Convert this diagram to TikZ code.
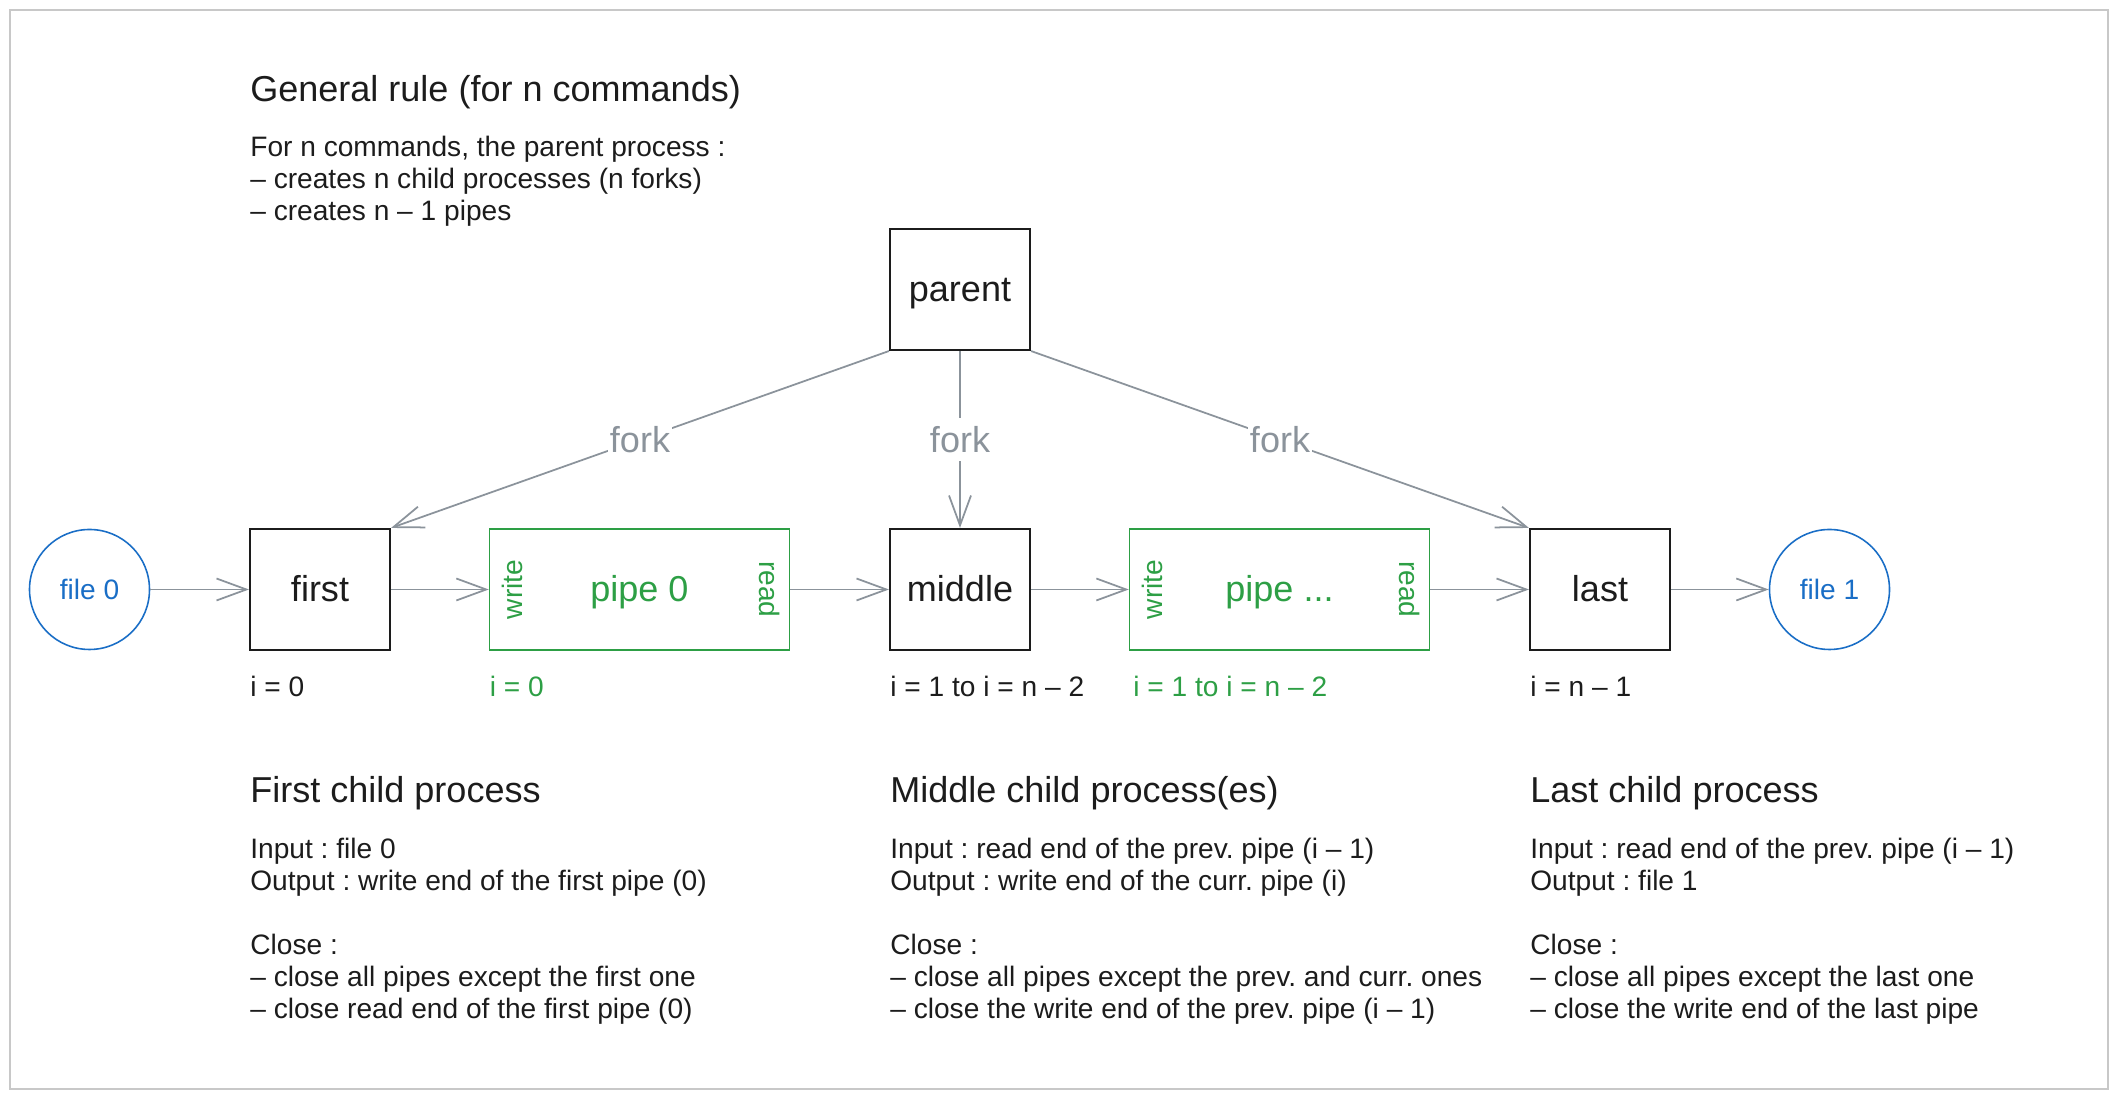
\documentclass[tikz,border=0pt]{standalone}
\usepackage{fontspec}
\setmainfont{Liberation Sans}
\frenchspacing
\usetikzlibrary{arrows.meta}
\definecolor{inkgray}{HTML}{8B939B}
\definecolor{pipegreen}{HTML}{2D9F45}
\definecolor{fileblue}{HTML}{1A6EC6}
\definecolor{framegray}{HTML}{C8C8C8}
\definecolor{textblack}{HTML}{1C1C1C}
\newcommand{\bodyfont}{\fontsize{16pt}{18.3pt}\selectfont}
\newcommand{\headfont}{\fontsize{20.5pt}{24.6pt}\selectfont}
\begin{document}
\begin{tikzpicture}[
    proc/.style={draw=textblack, line width=1.2pt, minimum width=2.8cm, minimum height=2.42cm, inner sep=0pt, font=\headfont, text=textblack, text height=13.9pt, text depth=0pt},
    pipebox/.style={draw=pipegreen, line width=0.85pt, minimum width=6cm, minimum height=2.42cm, inner sep=0pt, font=\headfont, text=pipegreen, text height=13.9pt, text depth=0pt},
    filenode/.style={circle, draw=fileblue, line width=0.9pt, minimum size=2.4cm, inner sep=0pt, font=\bodyfont, text=fileblue, text height=11.9pt, text depth=0pt},
    pipeend/.style={inner sep=0pt, font=\bodyfont, text=pipegreen},
    flow/.style={draw=inkgray, line width=1pt, -{Straight Barb[length=17pt,width=12.5pt]}},
    forklbl/.style={fill=white, font=\headfont, text=inkgray, inner xsep=1pt, inner ysep=0pt, minimum height=0.87cm},
    idx/.style={anchor=base west, inner sep=0pt, font=\bodyfont, text=textblack},
    txt/.style={anchor=base west, inner sep=0pt, align=left, font=\bodyfont, text=textblack},
    head/.style={anchor=base west, inner sep=0pt, font=\headfont, text=textblack}
  ]
  \useasboundingbox (0,0) rectangle (42.4,22);

  % Drawing frame
  \draw [framegray, line width=1pt] (0.2,0.22) rectangle (42.16,21.8);

  % Drawing general rule (txt nodes sit on the baseline of their last line)
  \node[head] (rulehead) at (5.0,19.97) {General rule (for n commands)};
  \node[txt] (ruletxt) at (5.0,17.59) {For n commands, the parent process :\\– creates n child processes (n forks)\\– creates n – 1 pipes};

  % Drawing processes and files
  \node[proc] (parent) at (19.2,16.21) {parent};
  \node[filenode] (file0) at (1.79,10.21) {file 0};
  \node[proc] (first) at (6.4,10.21) {first};
  \node[pipebox] (pipe0) at (12.79,10.21) {pipe 0};
  \node[proc] (middle) at (19.2,10.21) {middle};
  \node[pipebox] (pipe1) at (25.59,10.21) {pipe ...};
  \node[proc] (last) at (32.0,10.21) {last};
  \node[filenode] (file1) at (36.59,10.21) {file 1};

  % Drawing pipe ends
  \node[pipeend, rotate=90] (write0) at ([xshift=0.47cm]pipe0.west) {write};
  \node[pipeend, rotate=-90] (read0) at ([xshift=-0.41cm]pipe0.east) {read};
  \node[pipeend, rotate=90] (write1) at ([xshift=0.47cm]pipe1.west) {write};
  \node[pipeend, rotate=-90] (read1) at ([xshift=-0.41cm]pipe1.east) {read};

  % Drawing data flow
  \draw[flow] (file0) -- (first);
  \draw[flow] (first) -- (pipe0);
  \draw[flow] (pipe0) -- (middle);
  \draw[flow] (middle) -- (pipe1);
  \draw[flow] (pipe1) -- (last);
  \draw[flow] (last) -- (file1);

  % Drawing forks
  \draw[flow] (parent.south west) -- node[forklbl] (fork0) {fork} (first.north east);
  \draw[flow] (parent.south) -- node[forklbl] (fork1) {fork} (middle.north);
  \draw[flow] (parent.south east) -- node[forklbl] (fork2) {fork} (last.north west);

  % Marking indices
  \node[idx] (ifirst) at (5.0,8.07) {i = 0};
  \node[idx, text=pipegreen] (ipipe0) at (9.79,8.07) {i = 0};
  \node[idx] (imiddle) at (17.8,8.07) {i = 1 to i = n – 2};
  \node[idx, text=pipegreen] (ipipe1) at (22.66,8.07) {i = 1 to i = n – 2};
  \node[idx] (ilast) at (30.6,8.07) {i = n – 1};

  % Drawing child descriptions
  \node[head] (firsthead) at (5.0,5.94) {First child process};
  \node[txt] (firsttxt) at (5.0,1.62) {Input : file 0\\Output : write end of the first pipe (0)\\[18.3pt]Close :\\– close all pipes except the first one\\– close read end of the first pipe (0)};
  \node[head] (middlehead) at (17.8,5.94) {Middle child process(es)};
  \node[txt] (middletxt) at (17.8,1.62) {Input : read end of the prev. pipe (i – 1)\\Output : write end of the curr. pipe (i)\\[18.3pt]Close :\\– close all pipes except the prev. and curr. ones\\– close the write end of the prev. pipe (i – 1)};
  \node[head] (lasthead) at (30.6,5.94) {Last child process};
  \node[txt] (lasttxt) at (30.6,1.62) {Input : read end of the prev. pipe (i – 1)\\Output : file 1\\[18.3pt]Close :\\– close all pipes except the last one\\– close the write end of the last pipe};
\end{tikzpicture}
\end{document}
